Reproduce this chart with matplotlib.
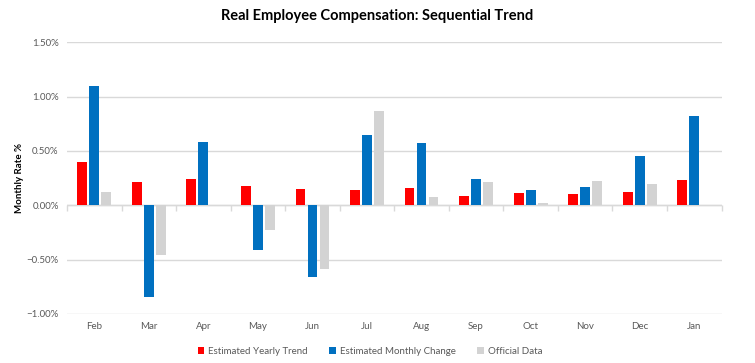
import numpy as np
import matplotlib.pyplot as plt
from matplotlib.ticker import PercentFormatter

months = ["Feb", "Mar", "Apr", "May", "Jun", "Jul", "Aug", "Sep", "Oct", "Nov", "Dec", "Jan"]
yearly_trend = [0.40, 0.21, 0.24, 0.18, 0.15, 0.14, 0.16, 0.09, 0.11, 0.10, 0.12, 0.23]
monthly_change = [1.10, -0.845, 0.58, -0.415, -0.66, 0.65, 0.57, 0.24, 0.14, 0.17, 0.45, 0.82]
official = [0.12, -0.46, np.nan, -0.23, -0.59, 0.87, 0.08, 0.21, 0.02, 0.22, 0.20, np.nan]

plt.rcParams["font.family"] = ["Lato", "DejaVu Sans"]

fig = plt.figure(figsize=(7.55, 3.63), dpi=100)
ax = fig.add_axes([0.0887, 0.135, 0.867, 0.7485])

x = np.arange(len(months))
w = 0.18
ax.bar(x - 0.22, yearly_trend, w, color="#ff0000", label="Estimated Yearly Trend", zorder=3)
ax.bar(x, monthly_change, w, color="#0070c0", label="Estimated Monthly Change", zorder=3)
ax.bar(x + 0.22, official, w, color="#d3d3d3", label="Official Data", zorder=3)

ax.set_xlim(-0.5, len(months) - 0.5)
ax.set_ylim(-1.0, 1.5)
ax.set_yticks([-1.0, -0.5, 0.0, 0.5, 1.0, 1.5])
ax.yaxis.set_major_formatter(PercentFormatter(decimals=2))
ax.grid(axis="y", color="#d9d9d9", linewidth=1, zorder=0)
ax.axhline(0, color="#d9d9d9", linewidth=1, zorder=2)
for s in ax.spines.values():
    s.set_visible(False)

ax.set_xticks(x)
ax.set_xticklabels(months)
ax.tick_params(axis="x", length=0, pad=6, labelsize=7, labelcolor="#595959")
ax.tick_params(axis="y", length=0, pad=6, labelsize=7, labelcolor="#595959")

# category boundary ticks on the zero line
sec = ax.secondary_xaxis(0.4)
sec.set_xticks(np.arange(-0.5, len(months)))
sec.set_xticklabels([])
sec.tick_params(length=4, color="#d9d9d9", width=1)
sec.spines["bottom"].set_visible(False)

ax.set_ylabel("Monthly Rate %", fontsize=7, fontweight="bold")
ax.yaxis.set_label_coords(-0.066, 0.5)
fig.suptitle("Real Employee Compensation: Sequential Trend", fontsize=10.5, fontweight="bold", y=0.975)

fig.legend(loc="lower center", bbox_to_anchor=(0.49, -0.005), ncol=3, frameon=False,
           fontsize=7, handlelength=0.7, handleheight=0.7, handletextpad=0.4, columnspacing=2.2,
           labelcolor="#595959")

fig.savefig("out.png", dpi=100)
